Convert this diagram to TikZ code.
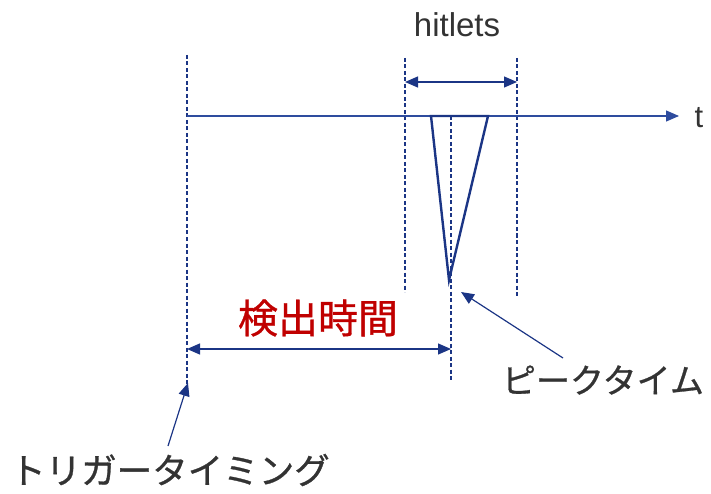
\documentclass[tikz,border=0pt]{standalone}
\usepackage{fontspec}
\setmainfont{Liberation Sans}
\newfontfamily\jpfont[FakeBold=0.8]{Noto Sans CJK JP}
\usetikzlibrary{arrows.meta}
\definecolor{navy}{HTML}{1B3585}
\definecolor{axisblue}{HTML}{2E4C9E}
\definecolor{darkred}{HTML}{C00000}
\definecolor{txtgrey}{HTML}{333333}
\tikzset{
  guide/.style={draw=navy, dashed, dash pattern=on 4pt off 2.5pt, line width=1.3pt},
  arr/.style={draw=navy, line width=1.2pt, -{Triangle[length=13pt,width=11pt]}},
  dblarr/.style={draw=navy, line width=1.2pt, {Triangle[length=13pt,width=11pt]}-{Triangle[length=13pt,width=11pt]}},
  lbl/.style={text=txtgrey, inner sep=0pt},
  jplbl/.style={text=txtgrey, inner sep=0pt},
}
\begin{document}
\begin{tikzpicture}[x=1pt,y=-1pt]
\useasboundingbox (0,0) rectangle (711,494);
% coordinates
\coordinate (trigTop) at (187,55);
\coordinate (trigBot) at (187,386);
\coordinate (hlTop) at (405,58);
\coordinate (hlBot) at (405,292);
\coordinate (hrTop) at (517,58);
\coordinate (hrBot) at (517,296);
\coordinate (pkTop) at (451,116);
\coordinate (pkBot) at (451,380);
\coordinate (axS) at (187,116);
\coordinate (axE) at (679,116);
\coordinate (triL) at (431,116);
\coordinate (triR) at (488,116);
\coordinate (triB) at (449,280);
\coordinate (hwL) at (405,82);
\coordinate (hwR) at (517,82);
\coordinate (dtL) at (187,349);
\coordinate (dtR) at (451,349);
\coordinate (pkTip) at (461,292);
\coordinate (pkTail) at (563,358);
\coordinate (tgTip) at (188,383);
\coordinate (tgTail) at (168,446);
% guides
\draw[guide] (trigTop) -- (trigBot);
\draw[guide] (hlTop) -- (hlBot);
\draw[guide] (hrTop) -- (hrBot);
\draw[guide] (pkTop) -- (pkBot);
% axis
\draw[draw=axisblue, line width=1.2pt, -{Triangle[length=13pt,width=11pt]}] (axS) -- (axE);
\node[lbl, font=\fontsize{31}{31}\selectfont, anchor=base] (t) at (699,128) {t};
% pulse
\draw[navy, line width=2.4pt, line join=miter] (triL) -- (triR) -- (triB) -- cycle;
% hitlets
\draw[dblarr] (hwL) -- (hwR);
\node[lbl, font=\fontsize{33}{33}\selectfont, anchor=base] (hit) at (457,37) {hitlets};
% detection time
\draw[dblarr] (dtL) -- (dtR);
\node[inner sep=0pt, text=darkred, font=\jpfont\fontsize{40}{40}\selectfont] (det) at (318,318) {検出時間};
% peak time
\node[jplbl, font=\jpfont\fontsize{34}{34}\selectfont] (pk) at (603,380) {ピークタイム};
\draw[arr] (pkTail) -- (pkTip);
% trigger timing
\node[jplbl, font=\jpfont\fontsize{35.5}{35.5}\selectfont] (tg) at (170,470) {トリガータイミング};
\draw[arr] (tgTail) -- (tgTip);
\end{tikzpicture}
\end{document}
